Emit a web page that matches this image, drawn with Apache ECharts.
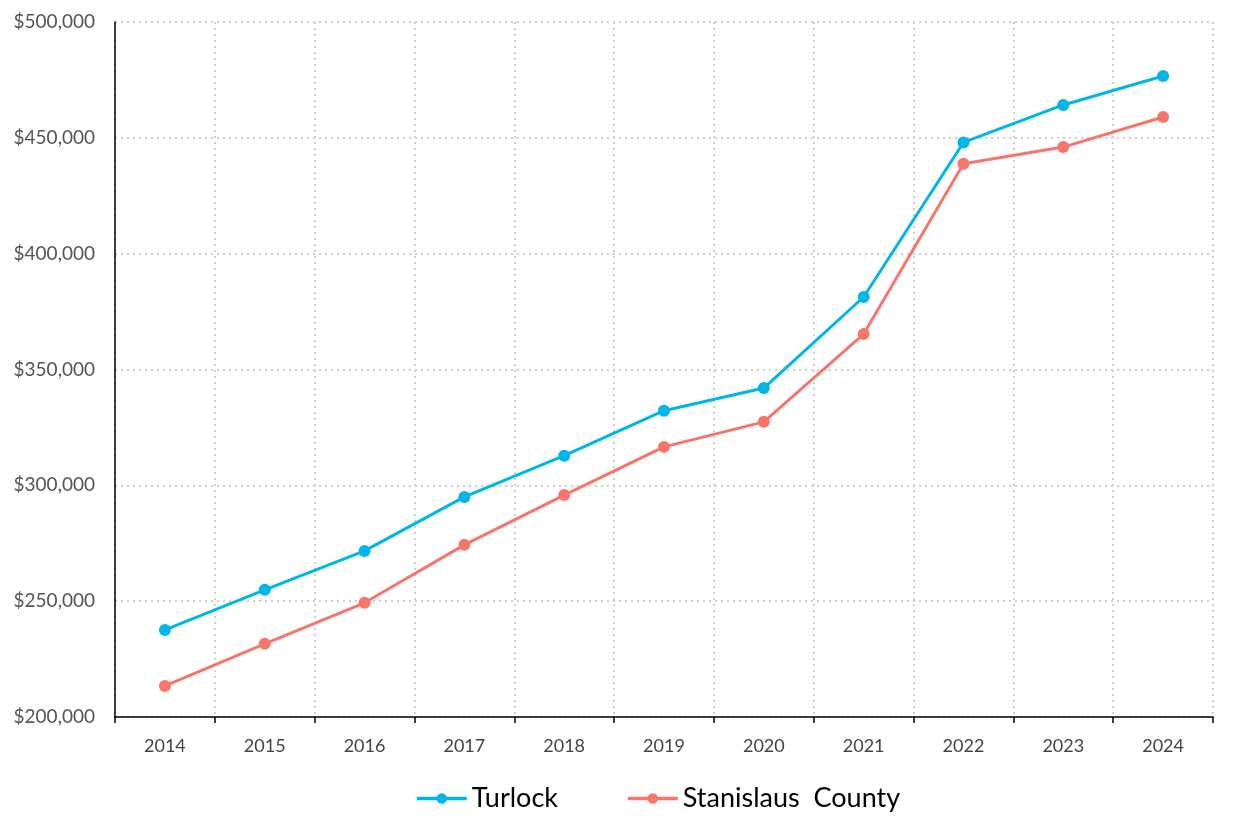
<!DOCTYPE html>
<html>
<head>
<meta charset="utf-8">
<script src="https://cdn.jsdelivr.net/npm/echarts@6/dist/echarts.min.js"></script>
<style>
html,body{margin:0;padding:0;background:#fff;}
#chart{width:1233px;height:829px;}
</style>
</head>
<body>
<div id="chart"></div>
<script>
const categories = ['2014','2015','2016','2017','2018','2019','2020','2021','2022','2023','2024'];
const turlock = [237600, 254900, 271700, 295000, 312800, 332200, 342000, 381300, 448000, 464200, 476700];
const stanislaus = [213400, 231600, 249300, 274300, 295800, 316600, 327400, 365300, 438800, 446000, 459000];
const seriesNames = ['Turlock', 'Stanislaus  County'];

const chart = echarts.init(document.getElementById('chart'));
const fontFam = 'Lato, "Open Sans", sans-serif';
chart.setOption({
  animation: false,
  grid: { left: 115, right: 20, top: 22, bottom: 112 },
  legend: {
    top: 780,
    left: 410,
    itemWidth: 50,
    itemHeight: 13,
    itemGap: 68,
    lineStyle: { width: 3.5 },
    textStyle: { fontSize: 27, color: '#000', fontFamily: fontFam },
    data: seriesNames
  },
  xAxis: {
    type: 'category',
    data: categories,
    boundaryGap: true,
    axisLine: { lineStyle: { color: '#000', width: 1.5 } },
    axisTick: { show: true, length: 6, lineStyle: { color: '#000', width: 1.5 } },
    axisLabel: { fontSize: 18, color: '#444', margin: 20, fontFamily: fontFam },
    splitLine: { show: true, lineStyle: { color: '#cfcfcf', width: 2, type: [2, 4] } }
  },
  yAxis: {
    type: 'value',
    min: 200000,
    max: 500000,
    interval: 50000,
    axisLine: { show: true, lineStyle: { color: '#000', width: 1.5 } },
    axisTick: { show: false },
    axisLabel: {
      fontSize: 19, color: '#555', margin: 20, fontFamily: fontFam,
      formatter: v => '$' + v.toLocaleString('en-US')
    },
    splitLine: { show: true, lineStyle: { color: '#cfcfcf', width: 2, type: [2, 4] } }
  },
  series: [
    {
      name: seriesNames[0], type: 'line', data: turlock,
      symbol: 'circle', symbolSize: 12,
      itemStyle: { color: '#00b5e8' },
      lineStyle: { color: '#00b5e8', width: 3 }
    },
    {
      name: seriesNames[1], type: 'line', data: stanislaus,
      symbol: 'circle', symbolSize: 12,
      itemStyle: { color: '#f7766c' },
      lineStyle: { color: '#f7766c', width: 3 }
    }
  ]
});
</script>
</body>
</html>
